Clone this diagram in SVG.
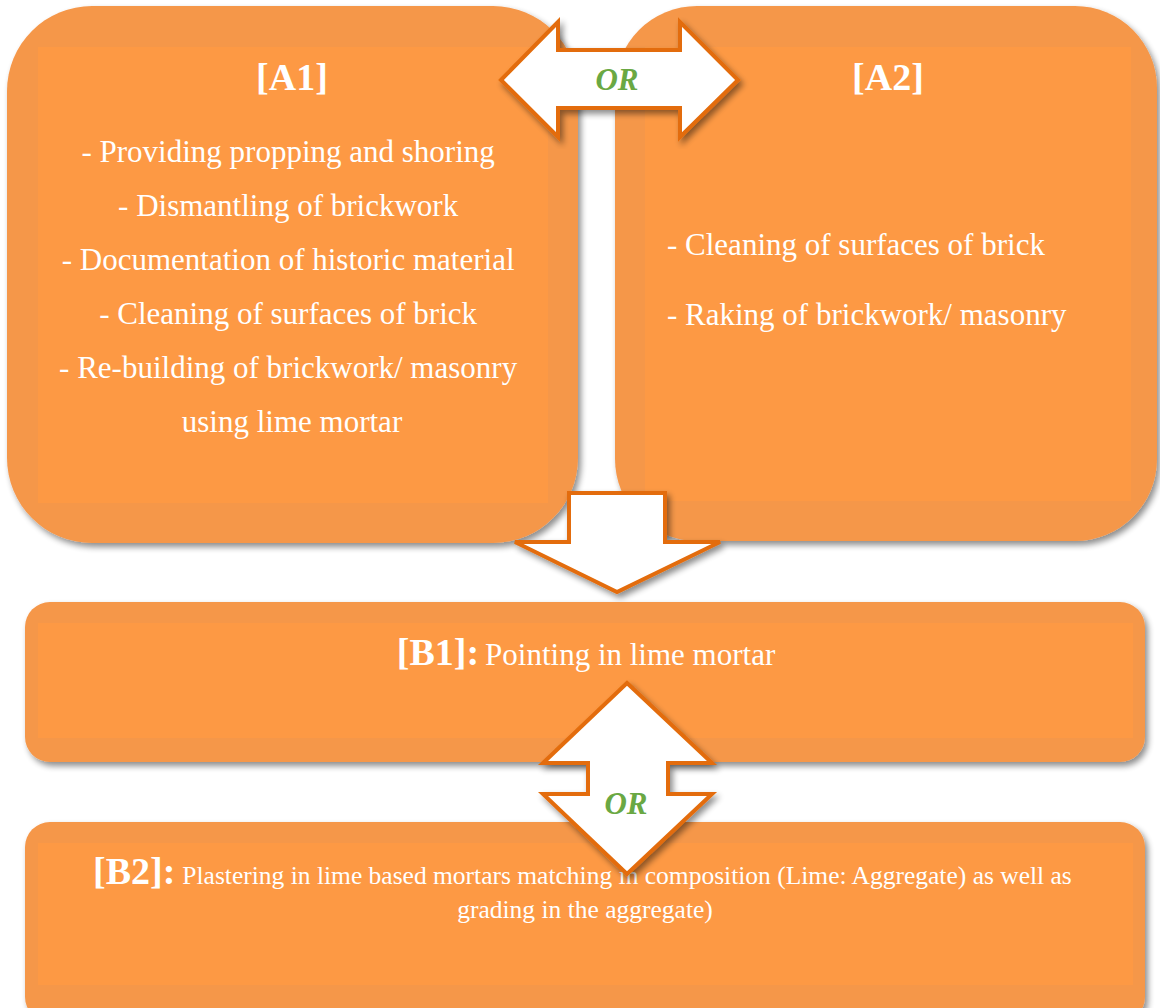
<svg xmlns="http://www.w3.org/2000/svg" width="1160" height="1008" viewBox="0 0 1160 1008">
<defs>
<filter id="sh" x="-10%" y="-10%" width="120%" height="120%">
<feGaussianBlur in="SourceAlpha" stdDeviation="3"/>
<feOffset dx="3" dy="4" result="b"/>
<feComponentTransfer><feFuncA type="linear" slope="0.45"/></feComponentTransfer>
<feMerge><feMergeNode/><feMergeNode in="SourceGraphic"/></feMerge>
</filter>
<style>
.box{fill:#F5974A;}
.inner{fill:#FD9944;}
.t{font-family:"Liberation Serif","DejaVu Serif",serif;fill:#FFFFFF;}
.title{font-size:38px;font-weight:bold;}
.line{font-size:31px;}
.arrow{fill:#FFFFFF;stroke:#E36C0A;stroke-width:4;stroke-linejoin:miter;}
.or{font-family:"Liberation Serif","DejaVu Serif",serif;font-size:31px;font-weight:bold;font-style:italic;fill:#6AA843;}
</style>
</defs>
<rect width="1160" height="1008" fill="#FFFFFF"/>

<g id="A1">
<rect class="box" x="7" y="6" width="571" height="537" rx="85" filter="url(#sh)"/>
<rect class="inner" x="38" y="47" width="510" height="456"/>
<text class="t title" x="292" y="90" text-anchor="middle">[A1]</text>
<text class="t line" text-anchor="middle">
<tspan x="292" y="162">- Providing propping and shoring</tspan>
<tspan x="292" y="216">- Dismantling of brickwork</tspan>
<tspan x="292" y="270">- Documentation of historic material</tspan>
<tspan x="292" y="324">- Cleaning of surfaces of brick</tspan>
<tspan x="292" y="378">- Re-building of brickwork/ masonry</tspan>
<tspan x="292" y="432">using lime mortar</tspan>
</text>
</g>

<g id="A2">
<rect class="box" x="615" y="6" width="542" height="535" rx="82" filter="url(#sh)"/>
<rect class="inner" x="645" y="47" width="486" height="454"/>
<text class="t title" x="888" y="90" text-anchor="middle">[A2]</text>
<text class="t line">
<tspan x="667" y="255">- Cleaning of surfaces of brick</tspan>
<tspan x="667" y="325">- Raking of brickwork/ masonry</tspan>
</text>
</g>

<g id="B1">
<rect class="box" x="25" y="602" width="1120" height="160" rx="25" filter="url(#sh)"/>
<rect class="inner" x="38" y="623" width="1095" height="115"/>
<text class="t" x="586" y="665" text-anchor="middle"><tspan class="title">[B1]:</tspan><tspan class="line" dx="6">Pointing in lime mortar</tspan></text>
</g>

<g id="B2">
<rect class="box" x="25" y="822" width="1120" height="200" rx="25" filter="url(#sh)"/>
<rect class="inner" x="38" y="843" width="1095" height="142"/>
<text class="t" x="93" y="884"><tspan class="title">[B2]:</tspan><tspan font-size="25.5" dx="7">Plastering in lime based mortars matching in composition (Lime: Aggregate) as well as</tspan></text>
<text class="t" x="585" y="918" font-size="25.5" text-anchor="middle">grading in the aggregate)</text>
</g>

<g id="connectors">
<g id="or-arrow-h" filter="url(#sh)">
<polygon class="arrow" points="501,80 558,22 558,50 680,50 680,22 738,80 680,137 680,108 558,108 558,137"/>
</g>
<text class="or" x="617" y="90" text-anchor="middle">OR</text>

<g id="down-arrow" filter="url(#sh)">
<polygon class="arrow" points="569,493 665,493 665,542 720,542 617,592 515,542 569,542"/>
</g>

<g id="or-arrow-v" filter="url(#sh)">
<polygon class="arrow" points="627,683 712,763 668,763 668,794 712,794 627,874 543,794 588,794 588,763 543,763"/>
</g>
<text class="or" x="626" y="814" text-anchor="middle">OR</text>
</g>
</svg>
